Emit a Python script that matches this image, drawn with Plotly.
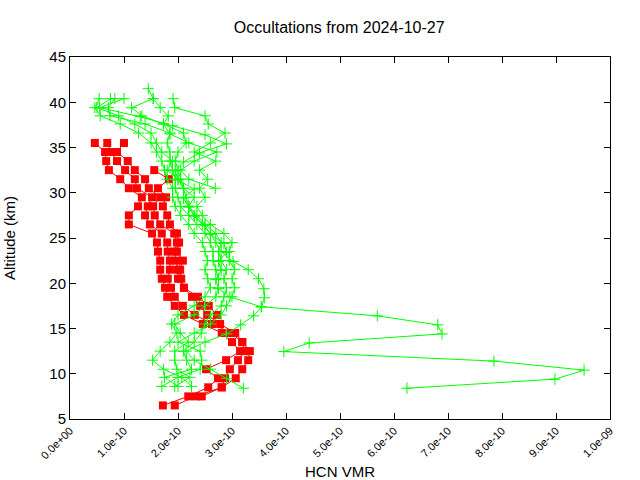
import numpy as np
import plotly.graph_objects as go

# ---------------- data (VMR values in units of 1e-10) ----------------
red_alt = [6.5, 7.5, 8.5, 9.5, 10.5, 11.5, 12.5, 13.5, 14.5, 15.5, 16.5, 17.5, 18.5, 19.5, 20.5,
           21.5, 22.5, 23.5, 24.5, 25.5, 26.5, 27.5, 28.5, 29.5, 30.5, 31.5, 32.5, 33.5, 34.5, 35.5]
red1 = [1.72, 2.19, 2.56, 2.74, 2.52, 2.89, 3.15, 3.0, 2.81, 2.46, 2.11, 1.94, 1.80, 1.76, 1.70,
        1.67, 1.67, 1.63, 1.61, 1.52, 1.09, 1.09, 1.26, 1.33, 1.09, 0.93, 0.72, 0.67, 0.65, 0.46]
red2 = [1.94, 2.33, 2.81, 2.87, 2.96, 3.11, 3.24, 3.19, 2.98, 2.63, 2.31, 2.09, 1.94, 1.87, 1.81,
        1.85, 1.85, 1.81, 1.80, 1.70, 1.48, 1.39, 1.44, 1.52, 1.24, 1.20, 1.02, 0.87, 0.76, 0.69]
red3_alt = [7.5, 8.5, 9.5, 10.5, 11.5, 12.5, 13.5, 14.5, 15.5, 16.5, 17.5, 18.5, 19.5, 20.5, 21.5,
            22.5, 23.5, 24.5, 25.5, 26.5, 27.5, 28.5, 29.5, 30.5, 31.5, 32.5, 33.5, 34.5, 35.5]
red3 = [2.44, 2.81, 3.07, 3.19, 3.30, 3.33, 3.19, 3.06, 2.78, 2.54, 2.41, 2.26, 2.11, 2.0, 2.0,
        1.96, 1.94, 1.98, 1.93, 1.67, 1.57, 1.54, 1.67, 1.46, 1.39, 1.20, 1.07, 0.87, 1.0]
red4_alt = [16.5, 17.5, 18.5, 19.5, 20.5, 21.5, 22.5, 23.5, 24.5, 25.5, 26.5, 27.5, 28.5, 29.5,
            30.5, 31.5, 32.5]
red4 = [2.72, 2.57, 2.37, 2.11, 2.06, 2.04, 2.09, 1.98, 2.02, 1.98, 1.85, 1.80, 1.72, 1.78,
        1.63, 1.83, 1.56]

g1_alt = [8.4, 9.4, 10.4, 11.4, 12.45, 13.4, 14.4, 15.4, 16.4, 17.4, 18.5, 19.4, 20.4, 21.4, 22.4,
          23.4, 24.4, 25.4, 26.4, 27.4, 28.4, 29.4, 30.4, 31.4, 32.4, 33.4, 34.4, 35.4, 36.4, 37.4,
          38.4, 39.4, 40.4]
g1 = [6.24, 8.98, 9.52, 7.85, 3.96, 4.43, 6.89, 6.81, 5.69, 3.54, 2.96, 2.75, 2.70, 2.80, 2.75,
      2.90, 2.85, 2.60, 2.50, 2.30, 2.20, 2.10, 2.30, 2.0, 1.95, 2.10, 2.40, 2.90, 2.50, 1.90,
      1.30, 0.55, 1.0]
g2_alt = [8.4, 9.5, 10.5, 11.5, 12.5, 13.5, 14.4, 15.4, 16.4, 17.4, 18.4, 19.4, 20.5, 21.5, 22.4,
          23.5, 24.5, 25.5, 26.5, 27.5, 28.5, 29.5, 30.5, 31.5, 32.5, 33.5, 34.5, 35.5, 36.6, 37.6,
          38.5, 39.4, 40.4]
g2 = [3.21, 2.90, 2.60, 2.30, 2.15, 2.50, 2.90, 3.16, 3.40, 3.55, 3.60, 3.59, 3.49, 3.30, 3.02,
      2.80, 2.70, 2.60, 2.45, 2.30, 2.20, 2.30, 2.10, 2.0, 1.80, 1.90, 1.70, 1.60, 1.50, 1.20,
      0.90, 0.50, 0.75]
g_alt = [8.6, 9.6, 10.5, 11.5, 12.5, 13.5, 14.5, 15.5, 16.5, 17.5, 18.5, 19.5, 20.5, 21.5, 22.5,
         23.5, 24.5, 25.5, 26.5, 27.5, 28.5, 29.5, 30.5, 31.5, 32.5, 33.5, 34.5, 35.5, 36.6, 37.6,
         38.5, 39.4, 40.4]
g3 = [2.25, 2.07, 1.73, 1.53, 1.67, 1.85, 1.98, 1.88, 2.0, 2.3, 2.5, 2.6, 2.55, 2.5, 2.55,
      2.5, 2.45, 2.3, 2.2, 2.05, 1.95, 1.9, 1.9, 1.8, 1.75, 1.7, 1.6, 1.5, 1.27, 0.93,
      0.56, 0.46, 0.54]
g4 = [1.94, 2.22, 1.98, 1.94, 1.94, 2.19, 2.04, 1.94, 2.3, 2.5, 2.7, 2.75, 2.75, 2.7, 2.65,
      2.65, 2.6, 2.5, 2.35, 2.2, 2.05, 2.0, 1.95, 1.95, 1.9, 1.85, 1.85, 1.8, 1.85, 1.39,
      0.74, 0.71, 0.83]
g5 = [2.0, 1.75, 2.25, 2.16, 2.10, 2.3, 2.43, 2.5, 2.6, 2.8, 2.85, 2.9, 2.85, 2.9, 2.8,
      2.75, 2.8, 2.7, 2.5, 2.35, 2.2, 2.15, 2.1, 2.05, 2.0, 1.95, 2.0, 2.15, 2.1, 1.73,
      1.33, 1.14, 1.54]
g6 = [1.70, 2.0, 2.41, 2.44, 2.41, 2.0, 2.3, 2.6, 2.8, 2.9, 3.0, 3.05, 3.0, 3.05, 2.95,
      2.95, 3.0, 2.85, 2.6, 2.45, 2.35, 2.5, 2.4, 2.55, 2.4, 2.7, 2.3, 2.6, 2.87, 2.56,
      2.5, 1.94, 1.91]
g7_alt = [30.5, 31.5, 32.5, 33.5, 34.5, 35.5, 36.5, 37.6, 38.5, 39.4, 40.4, 41.5]
g7 = [2.69, 2.2, 2.05, 2.3, 2.72, 2.2, 1.85, 1.73, 1.82, 1.67, 1.54, 1.45]

xtick_vals = [0, 1, 2, 3, 4, 5, 6, 7, 8, 9, 10]
xtick_text = ["0.0e+00", "1.0e-10", "2.0e-10", "3.0e-10", "4.0e-10", "5.0e-10",
              "6.0e-10", "7.0e-10", "8.0e-10", "9.0e-10", "1.0e-09"]
ytick_vals = [5, 10, 15, 20, 25, 30, 35, 40, 45]

SCALE = 1e-10
RED = "#ff0000"
GREEN = "#00ff00"

fig = go.Figure()

for alt, vals in [(red_alt, red1), (red_alt, red2), (red3_alt, red3), (red4_alt, red4)]:
    fig.add_trace(go.Scatter(
        x=np.array(vals) * SCALE, y=alt, mode="lines+markers",
        line=dict(color=RED, width=1),
        marker=dict(symbol="square", size=8, color=RED),
        showlegend=False, hoverinfo="skip"))

for alt, vals in [(g1_alt, g1), (g2_alt, g2), (g_alt, g3), (g_alt, g4), (g_alt, g5),
                  (g_alt, g6), (g7_alt, g7)]:
    fig.add_trace(go.Scatter(
        x=np.array(vals) * SCALE, y=alt, mode="lines+markers",
        line=dict(color=GREEN, width=1),
        marker=dict(symbol="cross-thin", size=8, line=dict(color=GREEN, width=1)),
        showlegend=False, hoverinfo="skip"))

FONT = "Liberation Sans"
fig.update_layout(
    width=640, height=480,
    margin=dict(l=70, r=30, t=57, b=61, autoexpand=False),
    paper_bgcolor="white", plot_bgcolor="white",
    font=dict(family=FONT, color="black", size=14),
    title=dict(text="Occultations from 2024-10-27", x=0.53, xanchor="center",
               y=1 - 27 / 480, yanchor="middle", font=dict(size=16, family=FONT)),
    xaxis=dict(range=[0, 1e-9], tickvals=np.array(xtick_vals) * SCALE, ticktext=xtick_text,
               tickangle=-45, tickfont=dict(size=11), ticks="inside", ticklen=6,
               tickcolor="black", showline=True, linecolor="black", linewidth=1,
               mirror="allticks", showgrid=False, zeroline=False, automargin=False,
               title=dict(text="HCN VMR", font=dict(size=15), standoff=7)),
    yaxis=dict(range=[5, 45], tickvals=ytick_vals, tickfont=dict(size=15),
               ticks="inside", ticklen=6, tickcolor="black", showline=True,
               linecolor="black", linewidth=1, mirror="allticks", showgrid=False,
               zeroline=False, automargin=False,
               title=dict(text="Altitude (km)", font=dict(size=15), standoff=30)),
)

fig.write_html("out.html", config={"displayModeBar": False},
               post_script="document.body.style.margin='0';")
